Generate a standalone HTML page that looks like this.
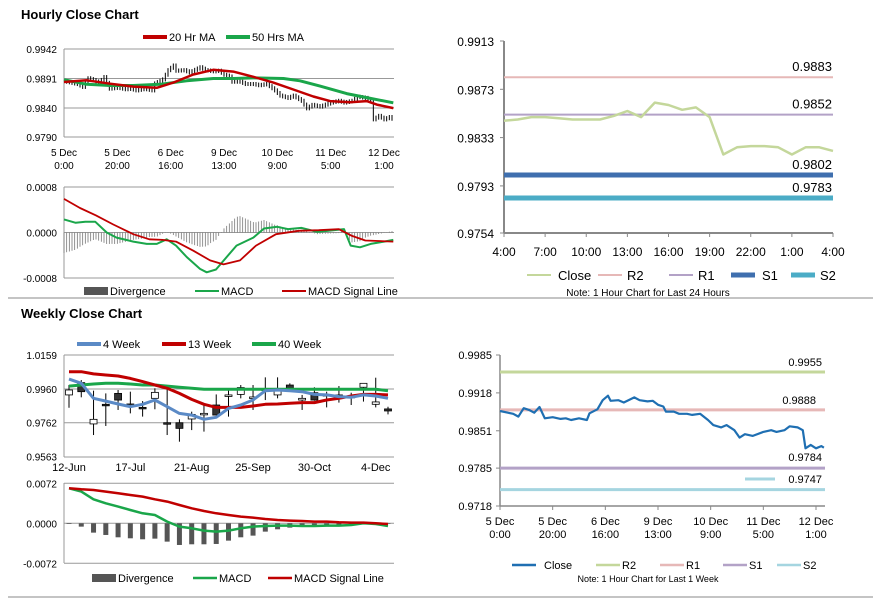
<!DOCTYPE html>
<html><head><meta charset="utf-8"><style>
body{margin:0;background:#fff}
svg{display:block;font-family:"Liberation Sans",Arial,sans-serif}
</style></head><body>
<svg id="c" width="873" height="601" viewBox="0 0 873 601">
<text x="21" y="19" font-size="13" font-weight="bold">Hourly Close Chart</text>
<text x="21" y="318" font-size="13" font-weight="bold">Weekly Close Chart</text>
<line x1="8" y1="298" x2="873" y2="298" stroke="#888"/>
<line x1="8" y1="597" x2="873" y2="597" stroke="#888"/>
<g id="g"></g>
</svg>
<script>
// ---------- DATA ----------
// Weekly-of-hourly close (panel 4, also used for hourly candles)
const hourIdx=[0,3,5,7,9,11,13,15,17,20,23,25,27,30,33,34,37,39,41,42,45,47,51,53,56,58,60,62,63,66,68,71,73,76,79,81,84,86,89,91,93,96,100,103,105,108,110,113,115,116,118,120,122,123];
const hourClose=[0.9886,0.9883,0.9881,0.9876,0.9891,0.9888,0.9883,0.9893,0.9873,0.9875,0.9872,0.9873,0.9870,0.9873,0.9870,0.9882,0.9889,0.9905,0.9913,0.9904,0.9905,0.9901,0.9910,0.9905,0.9903,0.9904,0.9897,0.9894,0.9885,0.9885,0.9881,0.9881,0.9879,0.9881,0.9870,0.9861,0.9857,0.9861,0.9852,0.9839,0.9845,0.9842,0.9849,0.9852,0.9849,0.9852,0.9859,0.9857,0.9852,0.9820,0.9826,0.9820,0.9824,0.9821];
const ma20Idx=[0,8.5,17.3,26,34.8,41,48.5,56,63.5,71,78.5,86,93.5,99.8,107.3,113.5,117.3,123.5];
const ma20=[0.9885,0.9888,0.9882,0.9877,0.9875,0.9884,0.9898,0.9906,0.9903,0.9894,0.9884,0.9872,0.9860,0.9852,0.9850,0.9852,0.9846,0.9840];
const ma50Idx=[0,8.5,17.3,26,36,46,56,63.5,71,82.3,88.5,96,106,113.5,123.5];
const ma50=[0.9889,0.9881,0.9879,0.9879,0.9881,0.9887,0.9891,0.9891,0.9892,0.9891,0.9887,0.9878,0.9865,0.9858,0.9849];
const hMacdIdx=[0,4.4,8,11.7,16,19.7,26,31,34.8,38.5,42,46,51,53.5,57,61,64.7,71,75,80,84,89,95,101,105,107.5,111,115,120,123.5];
const hMacd=[2.3,1.7,1.9,1.9,0,-0.9,-1.6,-2.0,-2.0,-1.2,-2.3,-4.3,-6.4,-7.0,-6.5,-4.3,-2.3,-0.9,0.7,1.0,0.6,0.8,0.1,0.4,0.6,-2.3,-2.6,-2.0,-1.6,-1.3];
const hSigIdx=[0,6,12,18.5,26,32,37,42,48.5,54.8,59.8,66,72,79.5,88,95.5,103,108,113,123.5];
const hSig=[5.9,4.3,3.0,1.4,-0.3,-1.2,-1.3,-1.6,-3.2,-4.9,-5.6,-4.9,-2.3,-0.3,0.3,0.4,0.6,-0.6,-1.4,-1.6];
const hourTicks=["5 Dec|0:00","5 Dec|20:00","6 Dec|16:00","9 Dec|13:00","10 Dec|9:00","11 Dec|5:00","12 Dec|1:00"];
// 24h panel
const dayTicks=["4:00","7:00","10:00","13:00","16:00","19:00","22:00","1:00","4:00"];
const dayClose=[0.9847,0.9848,0.9850,0.9850,0.9849,0.9848,0.9848,0.9848,0.9851,0.9855,0.9850,0.9862,0.9860,0.9856,0.9858,0.9850,0.9819,0.9825,0.9826,0.9826,0.9825,0.9819,0.9825,0.9825,0.9822];
const dayLevels=[0.9883,0.9852,0.9802,0.9783];
const weekLevels=[0.9955,0.9888,0.9785,0.9747];
// weekly
const weekTicks=["12-Jun","17-Jul","21-Aug","25-Sep","30-Oct","4-Dec"];
const wOpen=[0.9925,0.9997,0.9755,0.9870,0.9934,0.9872,0.9852,0.9905,0.9762,0.9762,0.9784,0.9815,0.9866,0.9920,0.9928,0.9909,0.9956,0.9925,0.9983,0.9895,0.9938,0.9927,0.9925,0.9917,0.9970,0.9870,0.9843];
const wClose=[0.9954,0.9944,0.9782,0.9866,0.9895,0.9870,0.9850,0.9940,0.9755,0.9729,0.9811,0.9817,0.9807,0.9925,0.9968,0.9913,0.9960,0.9950,0.9964,0.9905,0.9895,0.9923,0.9905,0.9913,0.9993,0.9884,0.9831];
const wHigh=[0.9983,1.0012,0.9950,0.9934,0.9954,0.9944,0.9889,0.9964,0.9964,0.9782,0.9827,0.9876,0.9928,0.9954,0.9983,0.9983,1.0028,1.0028,0.9993,0.9925,0.9970,0.9944,0.9977,0.9938,0.9993,1.0026,0.9856];
const wLow=[0.9850,0.9911,0.9690,0.9743,0.9837,0.9817,0.9798,0.9841,0.9690,0.9651,0.9719,0.9710,0.9807,0.9798,0.9905,0.9837,0.9895,0.9905,0.9944,0.9837,0.9891,0.9852,0.9880,0.9866,0.9886,0.9852,0.9811];
const w4=[1.0018,0.9993,0.9905,0.9889,0.9872,0.9856,0.9870,0.9895,0.9856,0.9817,0.9807,0.9782,0.9794,0.9846,0.9866,0.9895,0.9950,0.9954,0.9950,0.9944,0.9928,0.9925,0.9915,0.9911,0.9925,0.9919,0.9905];
const w13=[1.0061,1.0061,1.0048,1.0042,1.0036,1.0022,1.0003,0.9983,0.9964,0.9934,0.9899,0.9870,0.9852,0.9852,0.9852,0.9860,0.9870,0.9872,0.9876,0.9880,0.9880,0.9895,0.9905,0.9919,0.9928,0.9928,0.9925];
const w40=[0.9977,0.9983,0.9989,0.9993,0.9993,0.9989,0.9983,0.9983,0.9977,0.9970,0.9964,0.9958,0.9958,0.9958,0.9958,0.9958,0.9958,0.9958,0.9958,0.9958,0.9958,0.9958,0.9958,0.9958,0.9958,0.9958,0.9950];
const wMacd=[63,57,43.2,36,30,24,18,15,3,-6,-9,-13.2,-15,-13.2,-9,-6,-4.8,-4.2,-4.2,-4.8,-4.8,-4.2,-4.2,-3,0,-1.2,-4.8];
const wSig=[63,61.2,60,57,54,51,48,43.2,39,33,27,22.2,18,15,12,10.2,7.8,6,4.8,4.2,3,3,1.8,1.2,1.2,0,-1.2];
const wDiv=[-1.2,-6,-16.8,-21,-25.2,-27,-28.8,-27.6,-33,-39,-37.8,-37.8,-37.2,-31.2,-25.2,-22.2,-15,-10.8,-7.8,-6,-6,-4.8,-3,-1.8,-1,-1,-1];

// ---------- DRAW ----------
const NS="http://www.w3.org/2000/svg",G=document.getElementById('g');
function el(t,a,txt){const e=document.createElementNS(NS,t);for(const k in a)e.setAttribute(k,a[k]);if(txt!=null)e.textContent=txt;G.appendChild(e);return e;}
function lin(d0,d1,r0,r1){return v=>r0+(v-d0)/(d1-d0)*(r1-r0);}
function poly(xs,ys,fx,fy,col,w,name){const p=xs.map((x,i)=>fx(x).toFixed(1)+','+fy(ys[i]).toFixed(1)).join(' ');const e=el('polyline',{points:p,fill:'none',stroke:col,'stroke-width':w,'stroke-linejoin':'round'});return e;}
function txt(x,y,s,anchor,size,name){const e=el('text',{x:x,y:y,'font-size':size||10,'text-anchor':anchor||'start',fill:'#000'},s);return e;}
function ln(x1,y1,x2,y2,col,w,name){const e=el('line',{x1:x1,y1:y1,x2:x2,y2:y2,stroke:col,'stroke-width':w});return e;}
function interp(xs,ys,x){if(x<=xs[0])return ys[0];for(let i=1;i<xs.length;i++)if(x<=xs[i]){const t=(x-xs[i-1])/(xs[i]-xs[i-1]);return ys[i-1]+t*(ys[i]-ys[i-1]);}return ys[ys.length-1];}
function legLine(x,y,col,w,label,name){ln(x,y,x+24,y,col,w,name+'-swatch');txt(x+26,y+4,label,'start',11,name);}
function legBox(x,y,label,name){const r=el('rect',{x:x,y:y-4,width:24,height:8,fill:'#555'});txt(x+26,y+4,label,'start',11,name);}

// Panel 1: hourly candles
(function(){
 const X=lin(0,120,64,384),Y=lin(0.9790,0.9942,137,49);
 [0.9942,0.9891,0.9840].forEach(v=>ln(64,Y(v),394,Y(v),'#999',1,'hourly-gridline'));
 ln(64,49,64,137,'#999',1,'hourly-y-axis');ln(64,137,394,137,'#999',1,'hourly-x-axis');
 ['0.9942','0.9891','0.9840','0.9790'].forEach(s=>txt(57,Y(+s)+4,s,'end',10,'hourly-y-tick'));
 hourTicks.forEach((s,i)=>{const p=s.split('|');txt(X(i*20),156,p[0],'middle',10,'hourly-x-tick');txt(X(i*20),169,p[1],'middle',10,'hourly-x-tick');});
 for(let h=1;h<=123;h++){const a=interp(hourIdx,hourClose,h-1),b=interp(hourIdx,hourClose,h);
  const hi=Math.max(a,b)+0.0004,lo=Math.min(a,b)-0.0003;ln(X(h),Y(hi),X(h),Y(lo),'#000',1,'hourly-candle');}
 poly(ma50Idx,ma50,X,Y,'#1aa64a',3,'ma50-line');
 poly(ma20Idx,ma20,X,Y,'#c00000',2.5,'ma20-line');
 legLine(143,37,'#c00000',4,'20 Hr MA','legend-20hr-ma');
 legLine(226,37,'#1aa64a',4,'50 Hrs MA','legend-50hr-ma');
 // MACD
 const M=lin(-8,8,278,187);
 [8,0,-8].forEach(v=>ln(64,M(v),394,M(v),'#999',1,'hourly-macd-gridline'));
 ln(64,187,64,278,'#999',1,'hourly-macd-y-axis');
 [['0.0008',8],['0.0000',0],['-0.0008',-8]].forEach(a=>txt(57,M(a[1])+4,a[0],'end',10,'hourly-macd-y-tick'));
 for(let h=0;h<=123;h++){const d=interp(hMacdIdx,hMacd,h)-interp(hSigIdx,hSig,h);ln(X(h),M(0),X(h),M(d),'#777',0.8,'hourly-divergence-bar');}
 poly(hMacdIdx,hMacd,X,M,'#1aa64a',2,'hourly-macd-line');
 poly(hSigIdx,hSig,X,M,'#c00000',1.8,'hourly-signal-line');
 legBox(84,291,'Divergence','legend-hourly-divergence');
 legLine(195,291,'#1aa64a',2,'MACD','legend-hourly-macd');
 legLine(282,291,'#c00000',2,'MACD Signal Line','legend-hourly-signal');
})();

// Panel 2: 24h
(function(){
 const X=lin(0,24,504,833),Y=lin(0.9754,0.9913,233,41);
 ln(504,41,504,233,'#888',2,'day-y-axis');ln(504,233,833,233,'#888',2,'day-x-axis');
 ['0.9913','0.9873','0.9833','0.9793','0.9754'].forEach(s=>{ln(500,Y(+s),504,Y(+s),'#888',1,'day-y-tickmark');txt(494,Y(+s)+5,s,'end',12,'day-y-tick');});
 dayTicks.forEach((s,i)=>{ln(X(i*3),233,X(i*3),237,'#888',1,'day-x-tickmark');txt(X(i*3),256,s,'middle',12,'day-x-tick');});
 const cols=['#e6b8b7','#b3a2c7','#3f6fae','#4bacc6'],ws=[2,2,5,5],nm=['r2','r1','s1','s2'];
 dayLevels.forEach((v,i)=>{ln(504,Y(v),833,Y(v),cols[i],ws[i],'day-'+nm[i]+'-line');txt(832,Y(v)-6,v.toFixed(4),'end',13,'day-'+nm[i]+'-label');});
 poly(dayClose.map((_,i)=>i),dayClose,X,Y,'#c4d79b',2.5,'day-close-line');
 legLine(527,275,'#c4d79b',2,'',"legend-day-close-line");txt(558,280,'Close','start',13,'legend-day-close');
 legLine(598,275,'#e6b8b7',2,'',"legend-day-r2-line");txt(627,280,'R2','start',13,'legend-day-r2');
 legLine(669,275,'#b3a2c7',2,'',"legend-day-r1-line");txt(698,280,'R1','start',13,'legend-day-r1');
 legLine(731,275,'#3f6fae',5,'',"legend-day-s1-line");txt(762,280,'S1','start',13,'legend-day-s1');
 legLine(791,275,'#4bacc6',5,'',"legend-day-s2-line");txt(820,280,'S2','start',13,'legend-day-s2');
 txt(648,296,'Note: 1 Hour Chart for Last 24 Hours','middle',10,'day-note');
})();

// Panel 3: weekly candles
(function(){
 const X=lin(0,26,69,388),Y=lin(0.9563,1.0159,456.7,355);
 [1.0159,0.9960,0.9762].forEach(v=>ln(64,Y(v),394,Y(v),'#999',1,'weekly-gridline'));
 ln(64,355,64,457,'#999',1,'weekly-y-axis');ln(64,457,394,457,'#999',1,'weekly-x-axis');
 ['1.0159','0.9960','0.9762','0.9563'].forEach(s=>txt(57,Y(+s)+4,s,'end',10,'weekly-y-tick'));
 weekTicks.forEach((s,i)=>txt(X(i*5),471,s,'middle',11,'weekly-x-tick'));
 wOpen.forEach((o,i)=>{const c=wClose[i],x=X(i);ln(x,Y(wHigh[i]),x,Y(wLow[i]),'#000',1,'weekly-candle-wick');
  const t=Y(Math.max(o,c)),b=Y(Math.min(o,c));const r=el('rect',{x:x-3.5,y:t,width:7,height:Math.max(b-t,1.5),fill:c>=o?'#fff':'#333',stroke:'#000','stroke-width':0.8});
  });
 const idx=w4.map((_,i)=>i);
 poly(idx,w40,X,Y,'#1aa64a',3,'ma40-week-line');
 poly(idx,w13,X,Y,'#c00000',3,'ma13-week-line');
 poly(idx,w4,X,Y,'#5b8ac6',3,'ma4-week-line');
 legLine(77,344,'#5b8ac6',4,'4 Week','legend-4-week');
 legLine(162,344,'#c00000',4,'13 Week','legend-13-week');
 legLine(252,344,'#1aa64a',4,'40 Week','legend-40-week');
 const M=lin(-72,72,563.3,483.3);
 [72,0,-72].forEach(v=>ln(64,M(v),394,M(v),'#999',1,'weekly-macd-gridline'));
 ln(64,483,64,563,'#999',1,'weekly-macd-y-axis');
 [['0.0072',72],['0.0000',0],['-0.0072',-72]].forEach(a=>txt(57,M(a[1])+4,a[0],'end',10,'weekly-macd-y-tick'));
 wDiv.forEach((d,i)=>{const r=el('rect',{x:X(i)-2.5,y:Math.min(M(0),M(d)),width:5,height:Math.abs(M(d)-M(0)),fill:'#555'});});
 poly(idx,wMacd,X,M,'#1aa64a',2.5,'weekly-macd-line');
 poly(idx,wSig,X,M,'#c00000',2.5,'weekly-signal-line');
 legBox(92,578,'Divergence','legend-weekly-divergence');
 legLine(193,578,'#1aa64a',2.5,'MACD','legend-weekly-macd');
 legLine(268,578,'#c00000',2.5,'MACD Signal Line','legend-weekly-signal');
})();

// Panel 4: 1 week
(function(){
 const X=lin(0,120,500,816),Y=lin(0.9718,0.9985,506,355);
 ln(500,355,500,506,'#888',1.5,'week-y-axis');ln(500,506,825,506,'#888',1.5,'week-x-axis');
 ['0.9985','0.9918','0.9851','0.9785','0.9718'].forEach(s=>{ln(496,Y(+s),500,Y(+s),'#888',1,'week-y-tickmark');txt(492,Y(+s)+4,s,'end',11,'week-y-tick');});
 hourTicks.forEach((s,i)=>{const p=s.split('|');ln(X(i*20),506,X(i*20),510,'#888',1,'week-x-tickmark');txt(X(i*20),525,p[0],'middle',11,'week-x-tick');txt(X(i*20),538,p[1],'middle',11,'week-x-tick');});
 const cols=['#c4d79b','#e6b8b7','#b3a2c7','#a5d5e0'],nm=['r2','r1','s1','s2'];
 weekLevels.forEach((v,i)=>ln(500,Y(v),825,Y(v),cols[i],3,'week-'+nm[i]+'-line'));
 txt(822,366,weekLevels[0].toFixed(4),'end',11,'week-r2-label');
 txt(816,404,weekLevels[1].toFixed(4),'end',11,'week-r1-label');
 txt(822,461,weekLevels[2].toFixed(4).replace('85','84'),'end',11,'week-s1-label');
 ln(745,479,775,479,'#a5d5e0',3,'week-s2-marker');
 txt(822,483,weekLevels[3].toFixed(4),'end',11,'week-s2-label');
 poly(hourIdx,hourClose,X,Y,'#1f6fb2',2.2,'week-close-line');
 legLine(512,565,'#1f6fb2',2.5,'',"legend-week-close-line");txt(544,569,'Close','start',11,'legend-week-close');
 legLine(596,565,'#c4d79b',2.5,'',"legend-week-r2-line");txt(622,569,'R2','start',11,'legend-week-r2');
 legLine(660,565,'#e6b8b7',2.5,'',"legend-week-r1-line");txt(686,569,'R1','start',11,'legend-week-r1');
 legLine(723,565,'#b3a2c7',2.5,'',"legend-week-s1-line");txt(749,569,'S1','start',11,'legend-week-s1');
 legLine(777,565,'#a5d5e0',2.5,'',"legend-week-s2-line");txt(803,569,'S2','start',11,'legend-week-s2');
 txt(648,582,'Note: 1 Hour Chart for Last 1 Week','middle',9,'week-note');
})();
</script>
</body></html>
